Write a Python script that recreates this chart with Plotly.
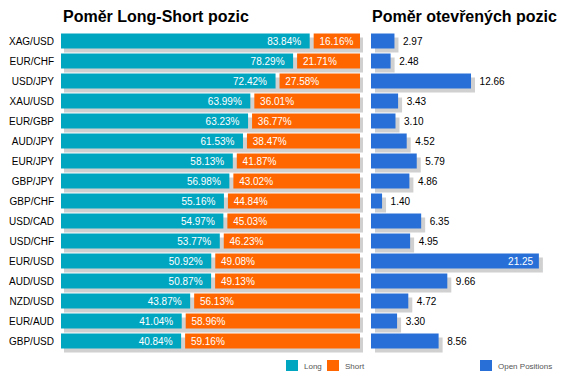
import plotly.graph_objects as go

pairs = ["XAG/USD", "EUR/CHF", "USD/JPY", "XAU/USD", "EUR/GBP", "AUD/JPY", "EUR/JPY", "GBP/JPY",
         "GBP/CHF", "USD/CAD", "USD/CHF", "EUR/USD", "AUD/USD", "NZD/USD", "EUR/AUD", "GBP/USD"]
long_pct = [83.84, 78.29, 72.42, 63.99, 63.23, 61.53, 58.13, 56.98, 55.16, 54.97, 53.77, 50.92, 50.87, 43.87, 41.04, 40.84]
short_pct = [16.16, 21.71, 27.58, 36.01, 36.77, 38.47, 41.87, 43.02, 44.84, 45.03, 46.23, 49.08, 49.13, 56.13, 58.96, 59.16]
open_pos = [2.97, 2.48, 12.66, 3.43, 3.10, 4.52, 5.79, 4.86, 1.40, 6.35, 4.95, 21.25, 9.66, 4.72, 3.30, 8.56]
legend_items = ["Long", "Short", "Open Positions"]

W, H = 566, 382
C_LONG = "#00A5BF"
C_SHORT = "#FF6600"
C_OPEN = "#2870D8"
C_SHADOW = "#D0D0D0"
NB = "\u00a0"
FONT = "Arial, Liberation Sans"

# pixel geometry
L_PX = 2.99      # px per percent unit
R_PX = 7.9       # px per open-position unit
L_X0, L_RANGE = 61, 102
R_X0, R_X1 = 371, 560
Y_TOP, Y_BOT = 31, 356
BW = 0.75
GAP = 4 / L_PX / 2      # half of white gap between long & short
SH_DX_L = 3 / L_PX
SH_DX_R = 4 / R_PX
SH_DY = 4 / 20

n = len(pairs)
fig = go.Figure()

# shadows (left)
fig.add_trace(go.Bar(
    y=pairs, x=[l + s for l, s in zip(long_pct, short_pct)], base=[SH_DX_L] * n,
    orientation="h", width=BW, offset=-BW / 2 + SH_DY,
    marker=dict(color=C_SHADOW, line=dict(width=0)), showlegend=False, hoverinfo="skip",
    xaxis="x", yaxis="y"))
# long
fig.add_trace(go.Bar(
    y=pairs, x=[l - GAP for l in long_pct], base=[0] * n, orientation="h", width=BW,
    name="Long", marker=dict(color=C_LONG, line=dict(width=0)),
    text=[f"{v:.2f}%{NB}{NB}" for v in long_pct], textposition="inside", insidetextanchor="end",
    insidetextfont=dict(color="white", size=10, family=FONT),
    constraintext="none", showlegend=False, xaxis="x", yaxis="y"))
# short
fig.add_trace(go.Bar(
    y=pairs, x=[s - GAP for s in short_pct], base=[l + GAP for l in long_pct], orientation="h", width=BW,
    name="Short", marker=dict(color=C_SHORT, line=dict(width=0)),
    text=[f"{NB}{v:.2f}%" for v in short_pct], textposition="inside", insidetextanchor="start",
    insidetextfont=dict(color="white", size=10, family=FONT),
    constraintext="none", showlegend=False, xaxis="x", yaxis="y"))

# shadows (right)
fig.add_trace(go.Bar(
    y=pairs, x=open_pos, base=[SH_DX_R] * n, orientation="h", width=BW, offset=-BW / 2 + SH_DY,
    marker=dict(color=C_SHADOW, line=dict(width=0)), showlegend=False, hoverinfo="skip",
    xaxis="x2", yaxis="y2"))
vmax = max(open_pos)
fig.add_trace(go.Bar(
    y=pairs, x=open_pos, orientation="h", width=BW, name="Open Positions",
    marker=dict(color=C_OPEN, line=dict(width=0)),
    text=[(f"{v:.2f}{NB}" if v == vmax else f"{NB}{NB}{v:.2f}") for v in open_pos],
    textposition=["inside" if v == vmax else "outside" for v in open_pos],
    insidetextanchor="end",
    insidetextfont=dict(color="white", size=10, family=FONT),
    outsidetextfont=dict(color="black", size=10, family=FONT),
    constraintext="none", cliponaxis=False, showlegend=False, xaxis="x2", yaxis="y2"))

# manual legend (swatch + label)
leg_colors = [C_LONG, C_SHORT, C_OPEN]
leg_x = [286, 327, 480]
shapes, annotations = [], []
for name, col, x0 in zip(legend_items, leg_colors, leg_x):
    shapes.append(dict(type="rect", xref="paper", yref="paper",
                       x0=x0 / W, x1=(x0 + 12) / W, y0=1 - 371 / H, y1=1 - 360 / H,
                       fillcolor=col, line=dict(width=0)))
    annotations.append(dict(text=name, x=(x0 + 16) / W, y=1 - 366 / H, xref="paper", yref="paper",
                            xanchor="left", yanchor="middle", showarrow=False,
                            font=dict(size=8, color="#555555", family=FONT)))

annotations += [
    dict(text="<b>Poměr Long-Short pozic</b>", x=L_X0 / W, y=1 - 16 / H, xref="paper", yref="paper",
         xanchor="left", yanchor="middle", showarrow=False,
         font=dict(size=16, color="black", family=FONT)),
    dict(text="<b>Poměr otevřených pozic</b>", x=370 / W, y=1 - 16 / H, xref="paper", yref="paper",
         xanchor="left", yanchor="middle", showarrow=False,
         font=dict(size=16, color="black", family=FONT)),
]

yrange = [15.75, -0.5]
fig.update_layout(
    width=W, height=H, margin=dict(l=0, r=0, t=0, b=0, autoexpand=False),
    paper_bgcolor="white", plot_bgcolor="white", barmode="overlay", showlegend=False,
    font=dict(family=FONT, size=10, color="black"),
    xaxis=dict(domain=[L_X0 / W, (L_X0 + L_RANGE * L_PX) / W], range=[0, L_RANGE],
               visible=False, fixedrange=True),
    yaxis=dict(domain=[(H - Y_BOT) / H, (H - Y_TOP) / H], range=yrange, type="category",
               showgrid=False, zeroline=False, showline=False, ticks="", ticklabelstandoff=6,
               automargin=False, tickfont=dict(size=10, color="black", family=FONT)),
    xaxis2=dict(domain=[R_X0 / W, R_X1 / W], range=[0, (R_X1 - R_X0) / R_PX],
                visible=False, fixedrange=True, anchor="y2"),
    yaxis2=dict(domain=[(H - Y_BOT) / H, (H - Y_TOP) / H], range=yrange, type="category",
                visible=False, anchor="x2", automargin=False),
    shapes=shapes,
    annotations=annotations,
)

fig.write_html("out.html", config={"displayModeBar": False},
               post_script="document.body.style.margin='0';document.body.style.padding='0';")
